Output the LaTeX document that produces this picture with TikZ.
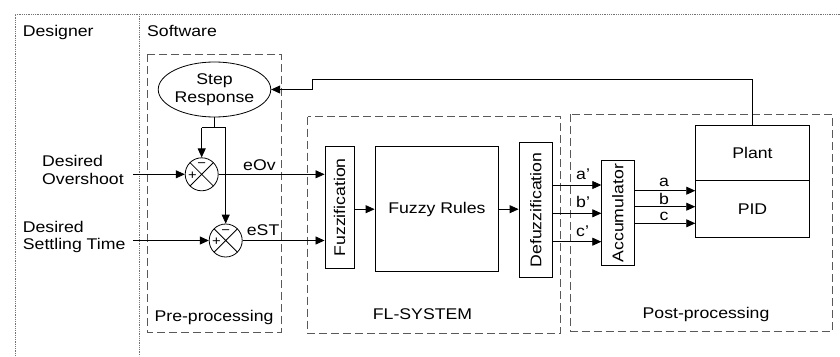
\documentclass[tikz,border=0pt]{standalone}
\usepackage{fontspec}
\usepackage{graphicx}
\setmainfont{Liberation Sans}[FakeStretch=1.14]
\usetikzlibrary{arrows.meta,shapes.geometric}
\begin{document}
\begin{tikzpicture}[x=1pt,y=-1pt,
  every node/.style={font=\fontsize{15.5}{17.5}\selectfont, inner sep=0pt},
  blk/.style={draw, line width=0.9pt, inner sep=0pt},
  grp/.style={draw=black!65, dash pattern=on 8pt off 4pt, line width=0.9pt},
  frm/.style={draw=black!55, dash pattern=on 1pt off 0.8pt, line width=0.8pt},
  arr/.style={line width=0.8pt, -{Triangle[length=9pt,width=8pt]}},
  ln/.style={line width=0.8pt},
  pm/.style={font=\fontsize{13}{13}\selectfont, inner sep=0pt},
  sumj/.style={draw, circle, minimum size=33pt, inner sep=0pt, line width=0.8pt,
    path picture={\draw[line width=0.8pt] (path picture bounding box.north west) -- (path picture bounding box.south east)
      (path picture bounding box.north east) -- (path picture bounding box.south west);}}
]
\useasboundingbox (0,0) rectangle (840,356);
\fill[white] (0,0) rectangle (840,356);
% outer frame
\draw[frm] (15,356) -- (15,14) -- (840,14);
\draw[frm] (139.5,14) -- (139.5,356);
\node[anchor=base west] (designer) at (22.7,36) {Designer};
\node[anchor=base west] (software) at (147,36) {Software};
% groups
\draw[grp] (147,54) rectangle (281,332);
\draw[grp] (307.7,116.7) rectangle (560.7,333.3);
\draw[grp] (570.7,114) rectangle (832.3,331);
\node[anchor=base] (lpre) at (214,321.7) {Pre-processing};
\node[anchor=base] (lfl) at (422.5,319.3) {FL-SYSTEM};
\node[anchor=base] (lpost) at (706,318.3) {Post-processing};
% pre-processing
\node[draw, ellipse, line width=0.8pt, minimum width=107pt, minimum height=55pt, align=center] (SR) at (214.5,89.5) {Step\\Response};
\node[sumj] (sum1) at (201.7,174.3) {};
\node[sumj] (sum2) at (225.7,240.5) {};
\node[pm] (m1) at (201.7,165.5) {−};
\node[pm] (p1) at (192.5,175.5) {+};
\node[pm] (m2) at (225.7,231.7) {−};
\node[pm] (p2) at (216.5,241.7) {+};
\node[anchor=west, align=left] (dov) at (42,170) {Desired\\Overshoot};
\node[anchor=west, align=left] (dst) at (22.7,237) {Desired\\Settling Time};
\coordinate (in1) at (133,174.3);
\coordinate (in2) at (133,240.5);
\draw[arr] (in1) -- (sum1.west);
\draw[arr] (in2) -- (sum2.west);
\coordinate (jl) at (201.7,127.7);
\coordinate (jr) at (225.7,127.7);
\draw[ln] (SR.south) -- (SR.south |- jl);
\draw[ln] (jl) -- (jr);
\draw[arr] (jl) -- (sum1.north);
\draw[arr] (jr) -- (sum2.north);
% FL system
\node[blk, minimum width=29pt, minimum height=121.3pt] (fuzz) at (339.5,207.3) {\rotatebox{90}{Fuzzification}};
\node[blk, minimum width=123.7pt, minimum height=125pt] (FR) at (436.9,209.2) {Fuzzy Rules};
\node[blk, minimum width=33.7pt, minimum height=134.6pt] (defz) at (535.9,210) {\rotatebox{90}{Defuzzification}};
\draw[arr] (sum1.east) -- (sum1.east -| fuzz.west);
\draw[arr] (sum2.east) -- (sum2.east -| fuzz.west);
\node[anchor=base west] (eov) at (243,170) {eOv};
\node[anchor=base west] (est) at (246.7,235.7) {eST};
\draw[arr] (fuzz.east |- FR.west) -- (FR.west);
\draw[arr] (FR.east) -- (FR.east -| defz.west);
% post-processing
\node[blk, minimum width=32.3pt, minimum height=105pt] (acc) at (617.9,213.2) {\rotatebox{90}{Accumulator}};
\node[blk, minimum width=113.6pt, minimum height=55.7pt] (plant) at (752.5,152.9) {Plant};
\node[blk, minimum width=113.6pt, minimum height=56.6pt] (pid) at (752.5,209) {PID};
\coordinate (ya1) at (0,185);
\coordinate (ya2) at (0,213.3);
\coordinate (ya3) at (0,241.7);
\draw[arr] (defz.east |- ya1) -- (acc.west |- ya1);
\draw[arr] (defz.east |- ya2) -- (acc.west |- ya2);
\draw[arr] (defz.east |- ya3) -- (acc.west |- ya3);
\node[anchor=base west] (lap) at (576,179.5) {a'};
\node[anchor=base west] (lbp) at (576,207) {b'};
\node[anchor=base west] (lcp) at (576,236.5) {c'};
\coordinate (yb1) at (0,190.7);
\coordinate (yb2) at (0,206.7);
\coordinate (yb3) at (0,223.3);
\draw[arr] (acc.east |- yb1) -- (pid.west |- yb1);
\draw[arr] (acc.east |- yb2) -- (pid.west |- yb2);
\draw[arr] (acc.east |- yb3) -- (pid.west |- yb3);
\node[anchor=base] (la) at (664,186.7) {a};
\node[anchor=base] (lb) at (664,204.5) {b};
\node[anchor=base] (lc) at (664,220.5) {c};
% feedback
\coordinate (fb1) at (752.5,79.3);
\coordinate (fb2) at (312,79.3);
\coordinate (fb3) at (312,89.5);
\draw[arr] (plant.north) -- (fb1) -- (fb2) -- (fb3) -- (SR.east);
\end{tikzpicture}
\end{document}
